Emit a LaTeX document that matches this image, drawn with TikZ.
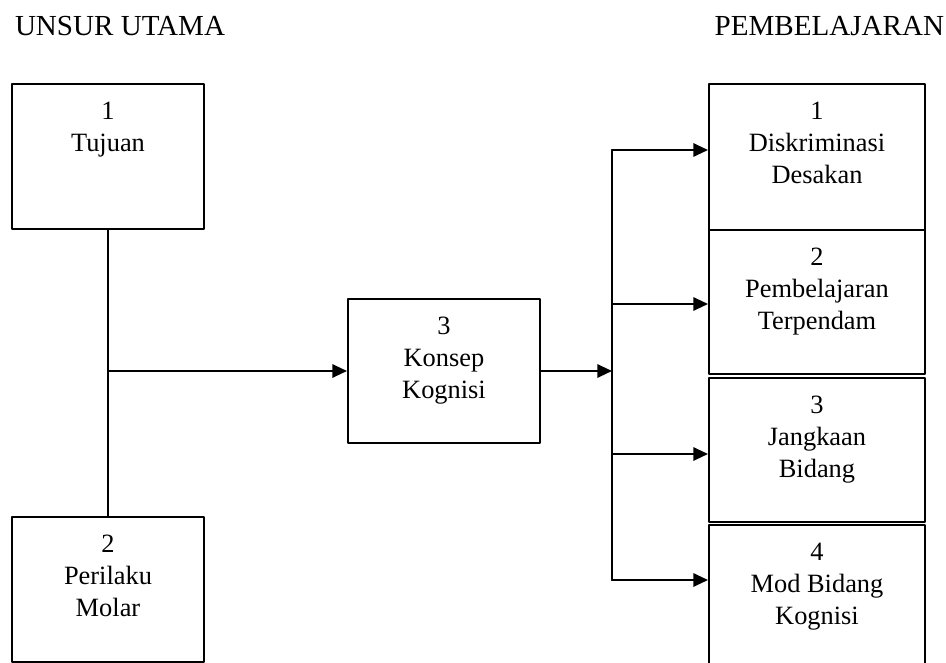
\documentclass[tikz,border=0pt]{standalone}
\usepackage{fontspec}
\setmainfont{Liberation Serif}
\usetikzlibrary{arrows.meta}
\usetikzlibrary{positioning}

\begin{document}
\begin{tikzpicture}[line cap=round,line join=round,line width=1.5pt,>={Triangle[length=11pt,width=10pt]},x=0.75pt,y=-0.75pt,
  kotak/.style={draw,inner sep=0pt,minimum width=144pt},
  kotakkanan/.style={kotak,minimum width=162pt},
  isi/.style={align=center,inner sep=0pt,font=\fontsize{19.8}{24}\selectfont},
  judul/.style={inner sep=0pt,font=\fontsize{21.8}{26}\selectfont}]
\clip (0,0) rectangle (946,663);

%judul
\node[judul,anchor=base west] (unsur) at (14,36) {UNSUR UTAMA};
\node[judul,anchor=base east] (belajar) at (945,36) {PEMBELAJARAN};

%unsur utama
\node[kotak,minimum height=108.75pt] (tujuan) at (108,156.5) {};
\node[isi,below=13.6pt of tujuan.north] (tujuant) {1\\Tujuan};
\node[kotak,minimum height=108.75pt] (molar) at (108,589.5) {};
\node[isi,below=13.6pt of molar.north] (molart) {2\\Perilaku\\Molar};
\draw (tujuan) -- (molar);

%konsep kognisi
\node[kotak,minimum height=108pt] (konsep) at (444,371) {};
\node[isi,below=13.6pt of konsep.north] (konsept) {3\\Konsep\\Kognisi};
\coordinate (cabang) at (tujuan.south |- konsep.west);
\draw[->] (cabang) -- (konsep);

%pembelajaran
\node[kotakkanan,minimum height=109.5pt] (diskrim) at (817,157) {};
\node[isi,below=13.6pt of diskrim.north] (diskrimt) {1\\Diskriminasi\\Desakan};
\node[kotakkanan,minimum height=108pt] (terpendam) at (817,302) {};
\node[isi,below=13.6pt of terpendam.north] (terpendamt) {2\\Pembelajaran\\Terpendam};
\node[kotakkanan,minimum height=108pt] (jangkaan) at (817,450) {};
\node[isi,below=13.6pt of jangkaan.north] (jangkaant) {3\\Jangkaan\\Bidang};
\node[kotakkanan,minimum height=108.75pt] (modbidang) at (817,597.5) {};
\node[isi,below=13.6pt of modbidang.north] (modbidangt) {4\\Mod Bidang\\Kognisi};

%garis pembahagi
\coordinate (bus) at (612,371);
\draw[->] (konsep) -- (bus);
\coordinate (busatas) at (612,150);
\coordinate (busbawah) at (612,580);
\draw (busatas) -- (busbawah);
\foreach \n/\y in {diskrim/150,terpendam/304,jangkaan/454,modbidang/580}
{
\coordinate (k\n) at (612,\y);
\draw[->] (k\n) -- (\n.west |- k\n);
}
\end{tikzpicture}
\end{document}
